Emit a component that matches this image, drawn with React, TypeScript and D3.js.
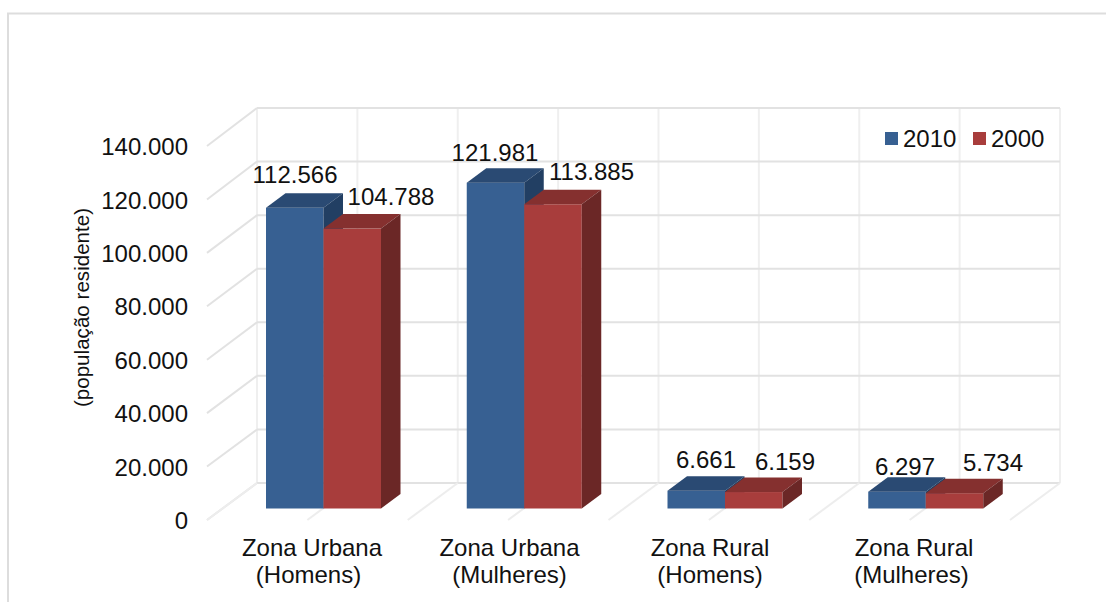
import React from "react";
import * as d3 from "d3";

const categories = [
  ["Zona Urbana", "(Homens)"],
  ["Zona Urbana", "(Mulheres)"],
  ["Zona Rural", "(Homens)"],
  ["Zona Rural", "(Mulheres)"],
];
const values2010 = [112566, 121981, 6661, 6297];
const values2000 = [104788, 113885, 6159, 5734];
const labels2010 = ["112.566", "121.981", "6.661", "6.297"];
const labels2000 = ["104.788", "113.885", "6.159", "5.734"];
const yTicks = [0, 20000, 40000, 60000, 80000, 100000, 120000, 140000];
const yTickLabels = ["0", "20.000", "40.000", "60.000", "80.000", "100.000", "120.000", "140.000"];

const BLUE = { front: "#376092", top: "#2A4A73", side: "#223F63" };
const RED = { front: "#A83D3C", top: "#85302F", side: "#6B2726" };
const FONT = "'Liberation Sans', Arial, sans-serif";

const yFront = d3.scaleLinear().domain([0, 140000]).range([520, 146]);
const yBack = d3.scaleLinear().domain([0, 140000]).range([483, 108]);
const yBar = d3.scaleLinear().domain([0, 140000]).range([508.5, 134.5]);
const xBack = d3.scaleLinear().domain([0, 8]).range([257, 1060]);
const xGroup = d3.scaleBand<number>().domain([0, 1, 2, 3]).range([207, 1010]);
const DX = 19.5;
const DY = 14.5;
const BAR_W = 57.5;
const DEPTH_X = 50;

const labelPos2010 = [[295, 183], [495, 161], [706, 468], [905, 475]];
const labelPos2000 = [[391, 205], [591.5, 180], [785, 470], [993, 471]];
const catLine1X = [312, 509.5, 710, 914];
const catLine2X = [308.5, 509.5, 710, 911.5];

function Bar({ x, v, c }: { x: number; v: number; c: typeof BLUE }) {
  const y0 = yBar(0);
  const y1 = yBar(v);
  const w = BAR_W;
  return (
    <g>
      <rect x={x} y={y1} width={w} height={y0 - y1} fill={c.front} />
      <polygon points={`${x},${y1} ${x + DX},${y1 - DY} ${x + w + DX},${y1 - DY} ${x + w},${y1}`} fill={c.top} />
      <polygon points={`${x + w},${y1} ${x + w + DX},${y1 - DY} ${x + w + DX},${y0 - DY} ${x + w},${y0}`} fill={c.side} />
    </g>
  );
}

export default function App() {
  const vlines = d3.range(0, 9);
  const groupOffset = 59;
  return (
    <svg width={1106} height={602} style={{ position: "absolute", left: 0, top: 0, background: "#fff" }} fontFamily={FONT}>
      <path d="M8,602 V13.5 H1106" fill="none" stroke="#DDDDDD" strokeWidth={2} />
      {vlines.map((i) => (
        <line key={i} x1={xBack(i)} x2={xBack(i)} y1={yBack(140000)} y2={yBack(0)} stroke="#EFEFEF" strokeWidth={2} />
      ))}
      {yTicks.map((t) => (
        <line key={t} x1={257} x2={1060} y1={yBack(t)} y2={yBack(t)} stroke="#E2E2E2" strokeWidth={2} />
      ))}
      {yTicks.map((t) => (
        <line key={t} x1={207} x2={257} y1={yFront(t)} y2={yBack(t)} stroke="#E2E2E2" strokeWidth={2} />
      ))}
      {vlines.map((i) => (
        <line key={i} x1={xBack(i) - DEPTH_X} x2={xBack(i)} y1={yFront(0)} y2={yBack(0)} stroke="#EDEDED" strokeWidth={2} />
      ))}
      {categories.map((_, i) => {
        const x = (xGroup(i) as number) + groupOffset;
        return (
          <g key={i}>
            <Bar x={x} v={values2010[i]} c={BLUE} />
            <Bar x={x + BAR_W} v={values2000[i]} c={RED} />
          </g>
        );
      })}
      {yTicks.map((t, i) => (
        <text key={t} x={188} y={yFront(t) + 9.2} textAnchor="end" fontSize={24} fill="#111">{yTickLabels[i]}</text>
      ))}
      <text transform="translate(89,307.5) rotate(-90)" textAnchor="middle" fontSize={20.6} fill="#111">(população residente)</text>
      {labels2010.map((l, i) => (
        <text key={l} x={labelPos2010[i][0]} y={labelPos2010[i][1]} textAnchor="middle" fontSize={24} fill="#111">{l}</text>
      ))}
      {labels2000.map((l, i) => (
        <text key={l} x={labelPos2000[i][0]} y={labelPos2000[i][1]} textAnchor="middle" fontSize={24} fill="#111">{l}</text>
      ))}
      {categories.map((c, i) => (
        <text key={i} textAnchor="middle" fontSize={24} fill="#111">
          <tspan x={catLine1X[i]} y={556}>{c[0]}</tspan>
          <tspan x={catLine2X[i]} y={583}>{c[1]}</tspan>
        </text>
      ))}
      <rect x={885} y={132} width={13} height={13} fill={BLUE.front} />
      <text x={903} y={147} fontSize={24} fill="#111">2010</text>
      <rect x={973} y={132} width={13} height={13} fill={RED.front} />
      <text x={991} y={147} fontSize={24} fill="#111">2000</text>
    </svg>
  );
}
